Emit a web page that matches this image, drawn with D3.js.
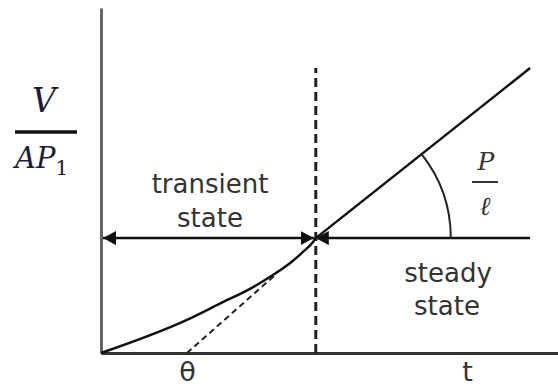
<!DOCTYPE html>
<html>
<head>
<meta charset="utf-8">
<script src="https://cdn.jsdelivr.net/npm/d3@7"></script>
<style>
  body { margin: 0; background: #fff; }
  svg { display: block; }
</style>
</head>
<body>
<div id="chart"></div>
<script>
// データ (x: 0-100, y: 0-100 の相対値)
var curveX  = [0, 18.8, 26.0, 33.3, 37.6, 41.4, 44.2, 46.4, 47.0];
var curveY  = [0, 9.6, 14.3, 19.1, 22.6, 26.1, 29.3, 32.2, 33.3];
var steadyX = [47.0, 93.9];
var steadyY = [33.3, 82.6];
var asymX   = [18.8, 38.1];
var asymY   = [0, 22.6];
var lagX    = 47.0;      // 境界 (破線)
var lagTop  = 82.6;
var levelY  = 33.3;      // 矢印の高さ
var levelEnd = 93.9;
var tickVals   = [18.8, 80.1];
var tickLabels = ["θ", "t"];

var width = 558, height = 390;

var svg = d3.select("#chart").append("svg")
  .attr("width", width)
  .attr("height", height);

var x = d3.scaleLinear().domain([0, 100]).range([101, 558]);
var y = d3.scaleLinear().domain([0, 100]).range([353, 8]);

// 矢印マーカー
svg.append("defs").append("marker")
  .attr("id", "arrow")
  .attr("viewBox", "0 0 13 14")
  .attr("refX", 13)
  .attr("refY", 7)
  .attr("markerWidth", 13)
  .attr("markerHeight", 14)
  .attr("markerUnits", "userSpaceOnUse")
  .attr("orient", "auto-start-reverse")
  .append("path")
  .attr("d", "M0,0 L13,7 L0,14 Z")
  .attr("fill", "#111");

// 軸
var yAxis = svg.append("g")
  .attr("transform", "translate(" + x(0) + ",0)")
  .call(d3.axisLeft(y).tickValues([]).tickSizeOuter(0));
yAxis.select(".domain").attr("stroke", "#666").attr("stroke-width", 3);

var xAxis = svg.append("g")
  .attr("transform", "translate(0," + y(0) + ")")
  .call(d3.axisBottom(x).tickValues(tickVals).tickSize(0).tickPadding(9)
    .tickFormat(function(d, i) { return tickLabels[i]; }));
xAxis.select(".domain").attr("stroke", "#333").attr("stroke-width", 3);
xAxis.selectAll(".tick text")
  .style("font-family", "DejaVu Sans")
  .style("font-size", "27px")
  .attr("fill", "#333");

// 破線 (境界)
svg.append("line")
  .attr("x1", x(lagX)).attr("y1", y(0))
  .attr("x2", x(lagX)).attr("y2", y(lagTop))
  .attr("stroke", "#222")
  .attr("stroke-width", 3)
  .attr("stroke-dasharray", "9,5");

// 漸近線 (破線)
svg.append("line")
  .attr("x1", x(asymX[0])).attr("y1", y(asymY[0]))
  .attr("x2", x(asymX[1])).attr("y2", y(asymY[1]))
  .attr("stroke", "#222")
  .attr("stroke-width", 2)
  .attr("stroke-dasharray", "6,4");

// 過渡曲線
var line = d3.line()
  .x(function(d) { return x(d[0]); })
  .y(function(d) { return y(d[1]); })
  .curve(d3.curveMonotoneX);

svg.append("path")
  .datum(d3.zip(curveX, curveY))
  .attr("d", line)
  .attr("fill", "none")
  .attr("stroke", "#111")
  .attr("stroke-width", 2.5);

// 定常直線
svg.append("path")
  .datum(d3.zip(steadyX, steadyY))
  .attr("d", d3.line().x(function(d) { return x(d[0]); }).y(function(d) { return y(d[1]); }))
  .attr("fill", "none")
  .attr("stroke", "#111")
  .attr("stroke-width", 2.5);

// 水平矢印
svg.append("line")
  .attr("x1", x(0) + 2).attr("y1", y(levelY))
  .attr("x2", x(lagX) - 2).attr("y2", y(levelY))
  .attr("stroke", "#111")
  .attr("stroke-width", 2.5)
  .attr("marker-start", "url(#arrow)")
  .attr("marker-end", "url(#arrow)");

svg.append("line")
  .attr("x1", x(levelEnd)).attr("y1", y(levelY))
  .attr("x2", x(lagX)).attr("y2", y(levelY))
  .attr("stroke", "#111")
  .attr("stroke-width", 2.5)
  .attr("marker-end", "url(#arrow)");

// 角度の弧
var cx = x(steadyX[0]), cy = y(steadyY[0]);
var ang = Math.atan2(y(steadyY[0]) - y(steadyY[1]), x(steadyX[1]) - x(steadyX[0]));
var r = 135;
svg.append("path")
  .attr("transform", "translate(" + cx + "," + cy + ")")
  .attr("d", d3.arc()({innerRadius: r, outerRadius: r,
    startAngle: Math.PI / 2 - ang, endAngle: Math.PI / 2}))
  .attr("fill", "none")
  .attr("stroke", "#222")
  .attr("stroke-width", 2);

// テキスト
function label(t, tx, ty) {
  svg.append("text")
    .attr("x", tx).attr("y", ty)
    .attr("text-anchor", "middle")
    .style("font-family", "DejaVu Sans")
    .style("font-size", "26px")
    .attr("fill", "#333")
    .text(t);
}
label("transient", 210, 193);
label("state", 210, 227);
label("steady", 448, 282);
label("state", 447, 315);

// V / AP1
svg.append("text")
  .attr("x", 44).attr("y", 112)
  .attr("text-anchor", "middle")
  .style("font-family", "DejaVu Serif")
  .style("font-style", "italic")
  .style("font-size", "33px")
  .attr("fill", "#1c1c3a")
  .text("V");
svg.append("line")
  .attr("x1", 15).attr("x2", 77).attr("y1", 132).attr("y2", 132)
  .attr("stroke", "#111").attr("stroke-width", 3.5);
var ap = svg.append("text")
  .attr("x", 15).attr("y", 168)
  .style("font-family", "DejaVu Serif")
  .style("font-style", "italic")
  .style("font-size", "29px")
  .attr("fill", "#1c1c3a");
ap.append("tspan").text("AP");
ap.append("tspan").attr("dy", 7).style("font-size", "20px").style("font-style", "normal").text("1");

// P / ℓ
svg.append("text")
  .attr("x", 486).attr("y", 170)
  .attr("text-anchor", "middle")
  .style("font-family", "DejaVu Serif")
  .style("font-style", "italic")
  .style("font-size", "25px")
  .attr("fill", "#333")
  .text("P");
svg.append("line")
  .attr("x1", 472).attr("x2", 498).attr("y1", 182).attr("y2", 182)
  .attr("stroke", "#333").attr("stroke-width", 2);
svg.append("text")
  .attr("x", 485).attr("y", 215)
  .attr("text-anchor", "middle")
  .style("font-family", "DejaVu Serif")
  .style("font-style", "italic")
  .style("font-size", "26px")
  .attr("fill", "#333")
  .text("ℓ");
</script>
</body>
</html>
